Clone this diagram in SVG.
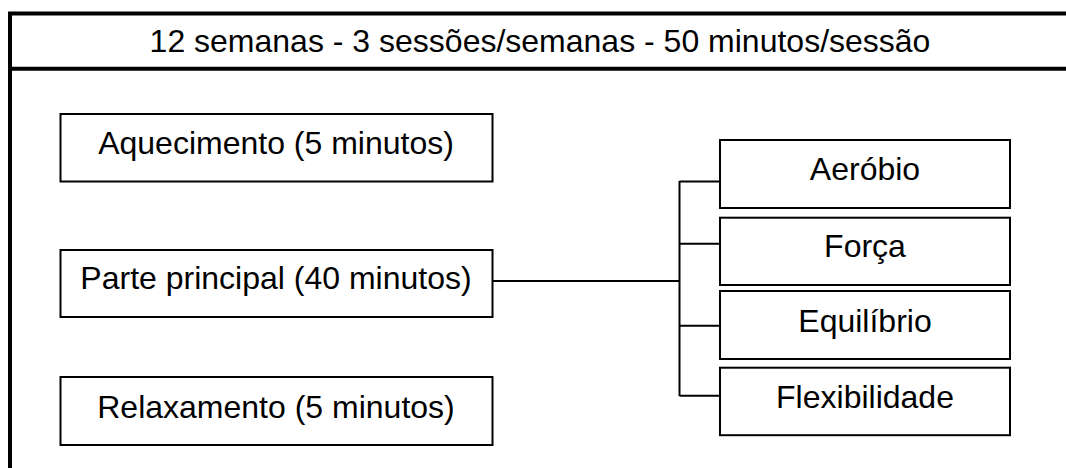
<svg xmlns="http://www.w3.org/2000/svg" width="1066" height="468" viewBox="0 0 1066 468">
<style>
text{font-family:"Liberation Sans",Arial,sans-serif;font-size:32px;fill:#000;text-anchor:middle}
.box{fill:#fff;stroke:#000;stroke-width:2}
.con{fill:none;stroke:#000;stroke-width:2}
</style>
<rect width="1066" height="468" fill="#fff"/>
<g id="frame">
<path d="M10,480 V13.5 H1080" fill="none" stroke="#000" stroke-width="4"/>
<line x1="10" y1="68.7" x2="1080" y2="68.7" stroke="#000" stroke-width="4"/>
<text x="540" y="51.7">12 semanas - 3 sessões/semanas - 50 minutos/sessão</text>
</g>
<g id="connectors">
<line class="con" x1="493" y1="281" x2="679.5" y2="281"/>
<line class="con" x1="679.5" y1="181" x2="679.5" y2="396"/>
<line class="con" x1="679.5" y1="181.5" x2="720" y2="181.5"/>
<line class="con" x1="679.5" y1="243.7" x2="720" y2="243.7"/>
<line class="con" x1="679.5" y1="325.7" x2="720" y2="325.7"/>
<line class="con" x1="679.5" y1="395.7" x2="720" y2="395.7"/>
</g>
<g id="aquecimento"><rect class="box" x="60.5" y="114" width="432" height="67.5"/><text x="276" y="153.5">Aquecimento (5 minutos)</text></g>
<g id="parte-principal"><rect class="box" x="60.5" y="250" width="432" height="67"/><text x="276" y="288.5">Parte principal (40 minutos)</text></g>
<g id="relaxamento"><rect class="box" x="60.5" y="377" width="432" height="68"/><text x="276" y="418.3">Relaxamento (5 minutos)</text></g>
<g id="aerobio"><rect class="box" x="720" y="140" width="290" height="68"/><text x="865" y="180">Aeróbio</text></g>
<g id="forca"><rect class="box" x="720" y="217.7" width="290" height="67.3"/><text x="865" y="257">Força</text></g>
<g id="equilibrio"><rect class="box" x="720" y="291" width="290" height="68"/><text x="865" y="331.7">Equilíbrio</text></g>
<g id="flexibilidade"><rect class="box" x="720" y="367.7" width="290" height="67.5"/><text x="865" y="407.7">Flexibilidade</text></g>
</svg>
